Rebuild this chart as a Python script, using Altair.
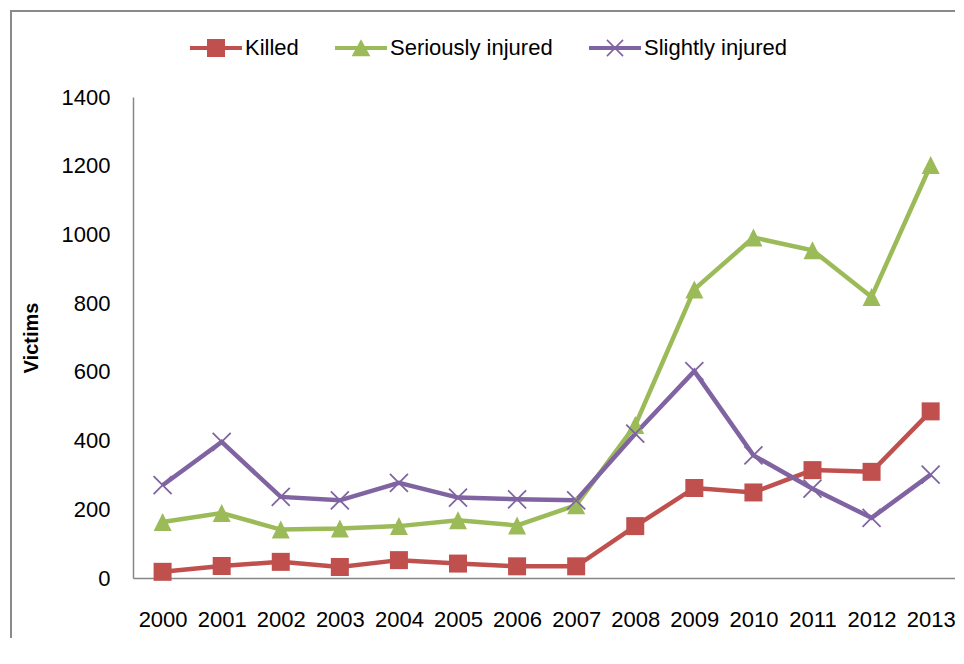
import altair as alt
import pandas as pd

# ---- data ----
years = list(range(2000, 2014))
series_names = ["Killed", "Seriously injured", "Slightly injured"]
killed = [18, 35, 47, 32, 52, 42, 34, 34, 151, 262, 249, 314, 309, 485]
seriously_injured = [163, 189, 141, 144, 151, 168, 153, 212, 445, 840, 991, 954, 818, 1202]
slightly_injured = [270, 396, 236, 226, 277, 234, 229, 226, 420, 602, 357, 260, 175, 301]
y_ticks = [0, 200, 400, 600, 800, 1000, 1200, 1400]

colors = ["#C0504D", "#9BBB59", "#8064A2"]
FONT = "Liberation Sans"

rows = []
for name, vals in zip(series_names, [killed, seriously_injured, slightly_injured]):
    for yr, v in zip(years, vals):
        rows.append({"year": yr, "series": name, "value": v})
df = pd.DataFrame(rows)


# ---- marker shapes (styles) ----
def poly(pts):
    return "M" + "L".join(f"{x:.3f},{y:.3f}" for x, y in pts) + "Z"


def x_shape(r, d):
    arm1 = [(-r + d, -r - d), (r + d, r - d), (r - d, r + d), (-r - d, -r + d)]
    arm2 = [(-r + d, r + d), (-r - d, r - d), (r - d, -r - d), (r + d, -r + d)]
    return poly(arm1) + poly(arm2)


SQ = poly([(-1, -1), (1, -1), (1, 1), (-1, 1)])
TRI = poly([(0, -1), (1, 1), (-1, 1)])
XS = x_shape(1.0, 0.07)

bar = poly([(-1, -0.077), (1, -0.077), (1, 0.077), (-1, 0.077)])
L_SQ = bar + poly([(-0.346, -0.346), (0.346, -0.346), (0.346, 0.346), (-0.346, 0.346)])
L_TRI = bar + poly([(0, -0.34), (0.36, 0.32), (-0.36, 0.32)])
L_X = bar + x_shape(0.31, 0.022)

x_scale = alt.Scale(domain=[1999.499, 2013.412], nice=False, zero=False)
y_scale = alt.Scale(domain=[0, 1400], nice=False)
color_scale = alt.Scale(domain=series_names, range=colors)

base = alt.Chart(df)

lines = base.mark_line(strokeWidth=4.5).encode(
    x=alt.X(
        "year:Q",
        scale=x_scale,
        axis=alt.Axis(
            values=years, format="d", title=None, labelAngle=0, labelPadding=31,
            ticks=False, labelFlush=False, labelOverlap=False, grid=False,
        ),
    ),
    y=alt.Y(
        "value:Q",
        scale=y_scale,
        axis=alt.Axis(
            values=y_ticks, format="d", title="Victims", titleFont=FONT,
            titleFontSize=20, titleFontWeight="bold", titleColor="#000000",
            titleAngle=270, titleX=-96, titleY=240.5, titleAlign="center",
            titleBaseline="alphabetic", labelPadding=23, ticks=False, grid=False,
        ),
    ),
    color=alt.Color("series:N", scale=color_scale, legend=None),
)

points = base.mark_point(filled=True, size=324, opacity=1, strokeWidth=0).encode(
    x=alt.X("year:Q", scale=x_scale),
    y=alt.Y("value:Q", scale=y_scale),
    color=alt.Color("series:N", scale=color_scale, legend=None),
    shape=alt.Shape("series:N", scale=alt.Scale(domain=series_names, range=[SQ, TRI, XS]), legend=None),
)

leg = alt.Legend(
    title=None, orient="none", legendX=57, legendY=-75, direction="horizontal",
    columns=3, symbolSize=2704, symbolStrokeWidth=0, labelFont=FONT,
    labelFontSize=22, labelColor="#000000", labelOffset=3, columnPadding=36,
    padding=0, labelLimit=400,
)

legend_layer = (
    base.transform_filter("false")
    .transform_calculate(Legend="datum.series")
    .mark_point(filled=True, opacity=1, strokeWidth=0)
    .encode(
        color=alt.Color("Legend:N", scale=alt.Scale(domain=series_names, range=colors), legend=leg),
        shape=alt.Shape("Legend:N", scale=alt.Scale(domain=series_names, range=[L_SQ, L_TRI, L_X]), legend=leg),
    )
)

frame_data = alt.Data(values=[{"k": 0}])
frame_top = alt.Chart(frame_data).mark_rule(color="#8a8a8a", strokeWidth=2).encode(
    x=alt.value(-123), x2=alt.value(822), y=alt.value(-86)
)
frame_left = alt.Chart(frame_data).mark_rule(color="#8a8a8a", strokeWidth=2).encode(
    x=alt.value(-122), y=alt.value(-87), y2=alt.value(545)
)

chart = (
    alt.layer(frame_top, frame_left, lines, points, legend_layer)
    .resolve_scale(shape="independent", color="independent")
    .properties(
        width=822,
        height=481,
        autosize=alt.AutoSizeParams(type="none"),
        padding={"left": 125, "top": 89, "right": 0, "bottom": 60},
        background="white",
    )
    .configure_view(stroke="transparent")
    .configure_axis(
        labelFont=FONT, labelFontSize=22, labelColor="#000000",
        domainColor="#868686", domainWidth=1.5,
    )
)

chart.save("out.html", embed_options={"renderer": "svg", "actions": False})
